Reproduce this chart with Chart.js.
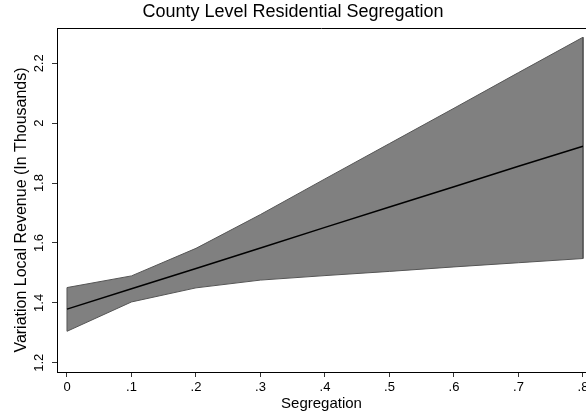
<!DOCTYPE html>
<html>
<head>
<meta charset="utf-8">
<script src="https://cdn.jsdelivr.net/npm/chart.js@4.4.1/dist/chart.umd.min.js"></script>
<style>
  body { margin: 0; background: #fff; }
</style>
</head>
<body>
<canvas id="chart" width="586" height="415"></canvas>
<script>
const xVals = [0, 0.1, 0.2, 0.3, 0.4, 0.5, 0.6, 0.7, 0.8];
const fitVals = [1.379, 1.447, 1.515, 1.583, 1.652, 1.720, 1.788, 1.856, 1.923];
const upperVals = [1.451, 1.490, 1.582, 1.695, 1.814, 1.932, 2.050, 2.169, 2.287];
const lowerVals = [1.305, 1.403, 1.450, 1.476, 1.491, 1.505, 1.520, 1.534, 1.548];

const xTicks = [0, 0.1, 0.2, 0.3, 0.4, 0.5, 0.6, 0.7, 0.8];
const xTickLabels = ['0', '.1', '.2', '.3', '.4', '.5', '.6', '.7', '.8'];
const yTicks = [1.2, 1.4, 1.6, 1.8, 2.0, 2.2];
const yTickLabels = ['1.2', '1.4', '1.6', '1.8', '2', '2.2'];

const FONT = '"Liberation Sans", Arial, sans-serif';

// band as one closed shape: upper edge forward, lower edge back
const bandPoints = [];
xVals.forEach((x, i) => bandPoints.push({ x: x, y: upperVals[i] }));
for (let i = xVals.length - 1; i >= 0; i--) bandPoints.push({ x: xVals[i], y: lowerVals[i] });
bandPoints.push({ x: xVals[0], y: upperVals[0] });

const fitPoints = xVals.map((x, i) => ({ x: x, y: fitVals[i] }));

const frameAndLabels = {
  id: 'frameAndLabels',
  afterDraw(chart) {
    const ctx = chart.ctx;
    const area = chart.chartArea;
    const yScale = chart.scales.y;
    ctx.save();
    // top frame line
    ctx.strokeStyle = '#000';
    ctx.lineWidth = 1;
    ctx.beginPath();
    ctx.moveTo(area.left, Math.round(area.top) + 0.5);
    ctx.lineTo(area.right, Math.round(area.top) + 0.5);
    ctx.stroke();

    // rotated y tick labels
    ctx.fillStyle = '#000';
    ctx.font = '13px ' + FONT;
    ctx.textAlign = 'center';
    ctx.textBaseline = 'alphabetic';
    yTicks.forEach((v, i) => {
      ctx.save();
      ctx.translate(43, yScale.getPixelForValue(v));
      ctx.rotate(-Math.PI / 2);
      ctx.fillText(yTickLabels[i], 0, 0);
      ctx.restore();
    });

    // y axis title
    ctx.font = '16px ' + FONT;
    ctx.save();
    ctx.translate(26, 210);
    ctx.rotate(-Math.PI / 2);
    ctx.fillText('Variation Local Revenue (In Thousands)', 0, 0);
    ctx.restore();
    ctx.restore();
  }
};

new Chart(document.getElementById('chart'), {
  type: 'scatter',
  data: {
    datasets: [
      {
        label: 'Fit',
        data: fitPoints,
        showLine: true,
        borderColor: '#000',
        borderWidth: 1.5,
        pointRadius: 0,
        fill: false
      },
      {
        label: 'CI',
        data: bandPoints,
        showLine: true,
        borderColor: '#555',
        borderWidth: 1,
        backgroundColor: '#808080',
        pointRadius: 0,
        fill: 'shape'
      }
    ]
  },
  options: {
    responsive: false,
    animation: false,
    layout: { padding: 0 },
    plugins: {
      legend: { display: false },
      tooltip: { enabled: false },
      title: {
        display: true,
        text: 'County Level Residential Segregation',
        color: '#000',
        font: { family: FONT, size: 18, weight: 'normal' },
        padding: { top: 1.6, bottom: 4.8 }
      }
    },
    scales: {
      x: {
        type: 'linear',
        min: -0.0155,
        max: 0.8047,
        afterBuildTicks: s => { s.ticks = xTicks.map(v => ({ value: v })); },
        afterFit: s => { s.height = 43; s.paddingLeft = 0; s.paddingRight = 0; },
        ticks: {
          autoSkip: false,
          maxRotation: 0,
          minRotation: 0,
          padding: 3,
          color: '#000',
          font: { family: FONT, size: 13 },
          callback: (val, idx) => xTickLabels[idx]
        },
        grid: { drawOnChartArea: false, drawTicks: true, tickLength: 5, color: '#333' },
        border: { display: true, color: '#000', width: 1 },
        title: {
          display: true,
          text: 'Segregation',
          color: '#000',
          font: { family: FONT, size: 15 },
          padding: { top: 0, bottom: 2 }
        }
      },
      y: {
        type: 'linear',
        min: 1.169,
        max: 2.318,
        afterBuildTicks: s => { s.ticks = yTicks.map(v => ({ value: v })); },
        afterFit: s => { s.width = 57; s.paddingTop = 0; s.paddingBottom = 0; },
        ticks: { display: false },
        grid: { drawOnChartArea: false, drawTicks: true, tickLength: 5, color: '#333' },
        border: { display: true, color: '#000', width: 1 }
      }
    }
  },
  plugins: [frameAndLabels]
});
</script>
</body>
</html>
